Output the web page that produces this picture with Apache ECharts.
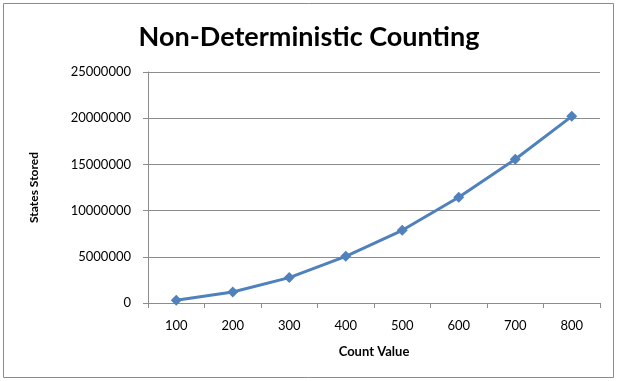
<!DOCTYPE html>
<html>
<head>
<meta charset="utf-8">
<script src="https://cdn.jsdelivr.net/npm/echarts@6/dist/echarts.min.js"></script>
<style>
  html, body { margin: 0; padding: 0; background: #fff; }
  #chart { width: 618px; height: 381px; }
</style>
</head>
<body>
<div id="chart"></div>
<script>
const countValues = ["100", "200", "300", "400", "500", "600", "700", "800"];
const statesStored = [290000, 1190000, 2750000, 5050000, 7870000, 11450000, 15550000, 20200000];

const chart = echarts.init(document.getElementById("chart"));

const font = "Lato, 'Open Sans', sans-serif";

const option = {
  backgroundColor: "#fff",
  title: {
    text: "Non-Deterministic Counting",
    left: "center",
    top: 19,
    textStyle: {
      fontFamily: font,
      fontSize: 27,
      fontWeight: "bold",
      color: "#000",
    },
  },
  graphic: [
    {
      type: "rect",
      shape: { x: 3.5, y: 3.5, width: 610, height: 374 },
      style: { fill: "none", stroke: "#8c8c8c", lineWidth: 1 },
    },
  ],
  grid: {
    left: 148,
    right: 18,
    top: 72,
    bottom: 78,
  },
  xAxis: {
    type: "category",
    data: countValues,
    boundaryGap: true,
    name: "Count Value",
    nameLocation: "middle",
    nameGap: 42,
    nameTextStyle: {
      fontFamily: font,
      fontSize: 13,
      fontWeight: "bold",
      color: "#000",
    },
    axisLine: { lineStyle: { color: "#8c8c8c", width: 1 } },
    axisTick: { show: true, alignWithLabel: false, length: 5, lineStyle: { color: "#8c8c8c" } },
    axisLabel: {
      fontFamily: font,
      fontSize: 13,
      color: "#000",
      margin: 16,
    },
  },
  yAxis: {
    type: "value",
    min: 0,
    max: 25000000,
    interval: 5000000,
    name: "States Stored",
    nameLocation: "middle",
    nameGap: 108,
    nameRotate: 90,
    nameTextStyle: {
      fontFamily: font,
      fontSize: 12,
      fontWeight: "bold",
      color: "#000",
    },
    axisLine: { show: true, lineStyle: { color: "#8c8c8c", width: 1 } },
    axisTick: { show: true, length: 5, lineStyle: { color: "#8c8c8c" } },
    axisLabel: {
      fontFamily: font,
      fontSize: 13,
      color: "#000",
      margin: 17,
      formatter: (v) => String(v),
    },
    splitLine: { show: true, lineStyle: { color: "#8c8c8c", width: 1 } },
  },
  series: [
    {
      name: "States Stored",
      type: "line",
      data: statesStored,
      symbol: "diamond",
      symbolSize: 11,
      lineStyle: { color: "#4f81bd", width: 3 },
      itemStyle: { color: "#4f81bd" },
      animation: false,
    },
  ],
};

chart.setOption(option);
</script>
</body>
</html>
